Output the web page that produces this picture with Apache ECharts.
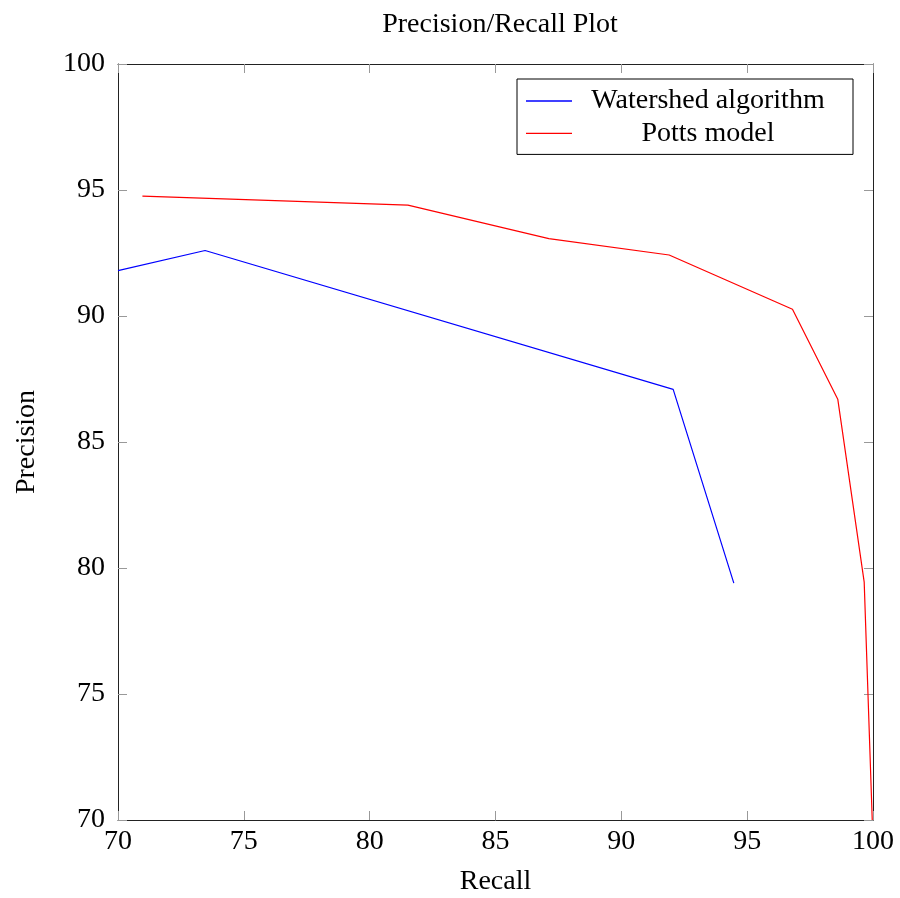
<!DOCTYPE html>
<html>
<head>
<meta charset="utf-8">
<script src="https://cdn.jsdelivr.net/npm/echarts@6/dist/echarts.min.js"></script>
<style>html,body{margin:0;padding:0;background:#fff;}#c{width:900px;height:898px;}</style>
</head>
<body>
<div id="c"></div>
<script>
const titleText = 'Precision/Recall Plot';
const xName = 'Recall';
const yName = 'Precision';
const seriesNames = ['Watershed algorithm', 'Potts model'];
const watershedRecall = [70, 73.46, 92.06, 94.47];
const watershedPrecision = [91.8, 92.6, 87.09, 79.4];
const pottsRecall = [70.97, 81.52, 87.12, 91.9, 96.8, 98.6, 99.65, 99.97];
const pottsPrecision = [94.76, 94.4, 93.07, 92.42, 90.27, 86.7, 79.44, 70];

const FONT = 'Liberation Serif';
const FS = 28;
const chart = echarts.init(document.getElementById('c'), null, {renderer: 'canvas'});

function pairs(xs, ys) { return xs.map((x, i) => [x, ys[i]]); }

const baseAxis = {
  type: 'value', min: 70, max: 100, interval: 5,
  splitLine: {show: false},
  axisLine: {show: true, onZero: false, lineStyle: {color: '#222', width: 1}},
  axisTick: {show: true, inside: true, length: 9, lineStyle: {color: '#999', width: 1}},
};

chart.setOption({
  animation: false,
  backgroundColor: '#fff',
  title: {
    text: titleText, left: 495, top: 6, textAlign: 'center',
    textStyle: {fontFamily: FONT, fontSize: FS, fontWeight: 'normal', color: '#000'}
  },
  grid: {left: 118, right: 27, top: 64, bottom: 78, containLabel: false, outerBoundsMode: 'none'},
  legend: {
    orient: 'vertical', left: 517, top: 79,
    borderColor: '#000', borderWidth: 1, borderRadius: 0,
    padding: [8, 14, 7, 9], itemGap: 4.4, itemWidth: 46, itemHeight: 1.3,
    icon: 'rect',
    data: seriesNames,
    formatter: '{c|{name}}',
    textStyle: {
      fontFamily: FONT, fontSize: FS, color: '#000',
      rich: {c: {width: 262, align: 'center', lineHeight: 31, fontFamily: FONT, fontSize: FS, color: '#000'}}
    }
  },
  xAxis: [
    Object.assign({}, baseAxis, {
      position: 'bottom', name: xName, nameLocation: 'middle', nameGap: 48,
      nameTextStyle: {fontFamily: FONT, fontSize: FS, color: '#000'},
      axisLabel: {fontFamily: FONT, fontSize: FS, color: '#000', margin: 8}
    }),
    Object.assign({}, baseAxis, {position: 'top', axisLabel: {show: false}})
  ],
  yAxis: [
    Object.assign({}, baseAxis, {
      position: 'left', name: yName, nameLocation: 'middle', nameGap: 77,
      nameTextStyle: {fontFamily: FONT, fontSize: FS, color: '#000'},
      axisLabel: {fontFamily: FONT, fontSize: FS, color: '#000', margin: 13}
    }),
    Object.assign({}, baseAxis, {position: 'right', axisLabel: {show: false}})
  ],
  series: [
    {
      name: seriesNames[0], type: 'line', data: pairs(watershedRecall, watershedPrecision),
      symbol: 'none', lineStyle: {color: '#0000ff', width: 1.2}, itemStyle: {color: '#0000ff'}
    },
    {
      name: seriesNames[1], type: 'line', data: pairs(pottsRecall, pottsPrecision),
      symbol: 'none', lineStyle: {color: '#ff0000', width: 1.2}, itemStyle: {color: '#ff0000'}
    }
  ]
});
</script>
</body>
</html>
